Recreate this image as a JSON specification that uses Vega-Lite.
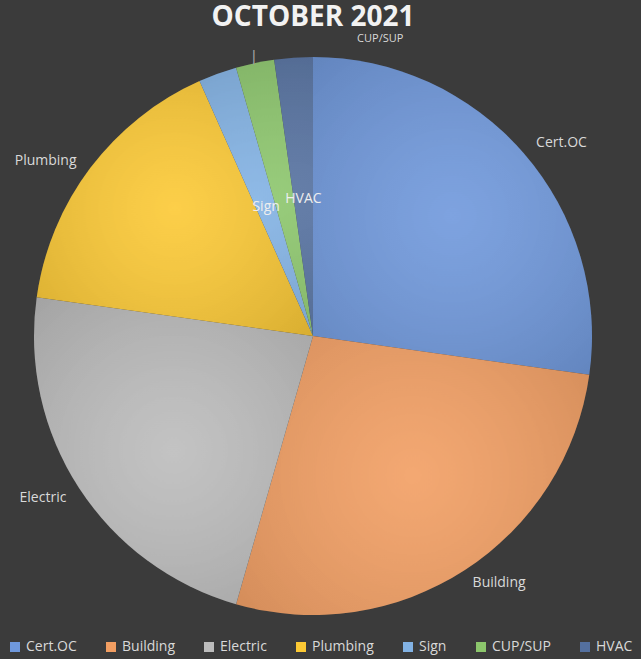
{
  "$schema": "https://vega.github.io/schema/vega-lite/v6.json",
  "autosize": "none",
  "width": 626,
  "height": 580,
  "padding": {"left": 0, "top": 46, "right": 15, "bottom": 33},
  "background": "#3b3b3b",
  "title": {
    "text": "OCTOBER 2021",
    "color": "#f2f2f2",
    "font": "Open Sans",
    "fontSize": 28,
    "fontWeight": "bold",
    "anchor": "middle",
    "offset": -36
  },
  "data": {
    "values": [
      {"category": "Cert.OC", "value": 49, "idx": 1},
      {"category": "Building", "value": 49, "idx": 2},
      {"category": "Electric", "value": 41, "idx": 3},
      {"category": "Plumbing", "value": 29, "idx": 4},
      {"category": "Sign", "value": 4, "idx": 5},
      {"category": "CUP/SUP", "value": 4, "idx": 6},
      {"category": "HVAC", "value": 4, "idx": 7}
    ]
  },
  "encoding": {
    "theta": {"field": "value", "type": "quantitative", "stack": true},
    "order": {"field": "idx", "type": "quantitative"}
  },
  "layer": [
    {
      "mark": {"type": "arc", "outerRadius": 279},
      "encoding": {
        "color": {
          "field": "category",
          "type": "nominal",
          "scale": {
            "domain": ["Cert.OC", "Building", "Electric", "Plumbing", "Sign", "CUP/SUP", "HVAC"],
            "range": ["#6f98dc", "#f29e62", "#bcbcbc", "#fcc934", "#82b2e4", "#8cc66c", "#54709f"]
          },
          "legend": {
            "title": null,
            "orient": "none",
            "legendX": 8,
            "legendY": 594,
            "direction": "horizontal",
            "symbolType": "square",
            "symbolSize": 100,
            "symbolStrokeWidth": 0,
            "labelColor": "#d9d9d9",
            "labelFont": "Open Sans",
            "labelFontSize": 14,
            "columnPadding": 27,
            "labelOffset": 4
          }
        }
      }
    },
    {
      "mark": {
        "type": "arc",
        "outerRadius": 279,
        "strokeWidth": 0,
        "fill": {
          "gradient": "radial",
          "x1": 0.5, "y1": 0.5, "r1": 0,
          "x2": 0.5, "y2": 0.5, "r2": 0.75,
          "stops": [
            {"offset": 0, "color": "rgba(255,255,255,0.10)"},
            {"offset": 1, "color": "rgba(0,0,0,0.16)"}
          ]
        }
      }
    },
    {
      "mark": {"type": "text", "radius": 316, "dx": 10, "dy": 14, "color": "#d9d9d9", "font": "Open Sans", "fontSize": 14},
      "encoding": {"text": {"condition": {"test": "datum.category == 'Cert.OC'", "field": "category"}, "value": ""}}
    },
    {
      "mark": {"type": "text", "radius": 316, "dx": 14, "dy": -18, "color": "#d9d9d9", "font": "Open Sans", "fontSize": 14},
      "encoding": {"text": {"condition": {"test": "datum.category == 'Building'", "field": "category"}, "value": ""}}
    },
    {
      "mark": {"type": "text", "radius": 316, "dx": -5, "dy": -10, "color": "#d9d9d9", "font": "Open Sans", "fontSize": 14},
      "encoding": {"text": {"condition": {"test": "datum.category == 'Electric'", "field": "category"}, "value": ""}}
    },
    {
      "mark": {"type": "text", "radius": 316, "dx": -15, "dy": 15, "color": "#d9d9d9", "font": "Open Sans", "fontSize": 14},
      "encoding": {"text": {"condition": {"test": "datum.category == 'Plumbing'", "field": "category"}, "value": ""}}
    },
    {
      "mark": {"type": "text", "radius": 137, "color": "#eeeeee", "font": "Open Sans", "fontSize": 14},
      "encoding": {"text": {"condition": {"test": "datum.category == 'Sign' || datum.category == 'HVAC'", "field": "category"}, "value": ""}}
    },
    {
      "mark": {"type": "text", "radius": 302, "dx": 130, "dy": -2, "color": "#d9d9d9", "font": "Open Sans", "fontSize": 11},
      "encoding": {"text": {"condition": {"test": "datum.category == 'CUP/SUP'", "field": "category"}, "value": ""}}
    },
    {
      "mark": {"type": "text", "radius": 285, "color": "#a6a6a6", "font": "DejaVu Sans", "fontSize": 14},
      "encoding": {"text": {"condition": {"test": "datum.category == 'CUP/SUP'", "value": "|"}, "value": ""}}
    }
  ]
}
